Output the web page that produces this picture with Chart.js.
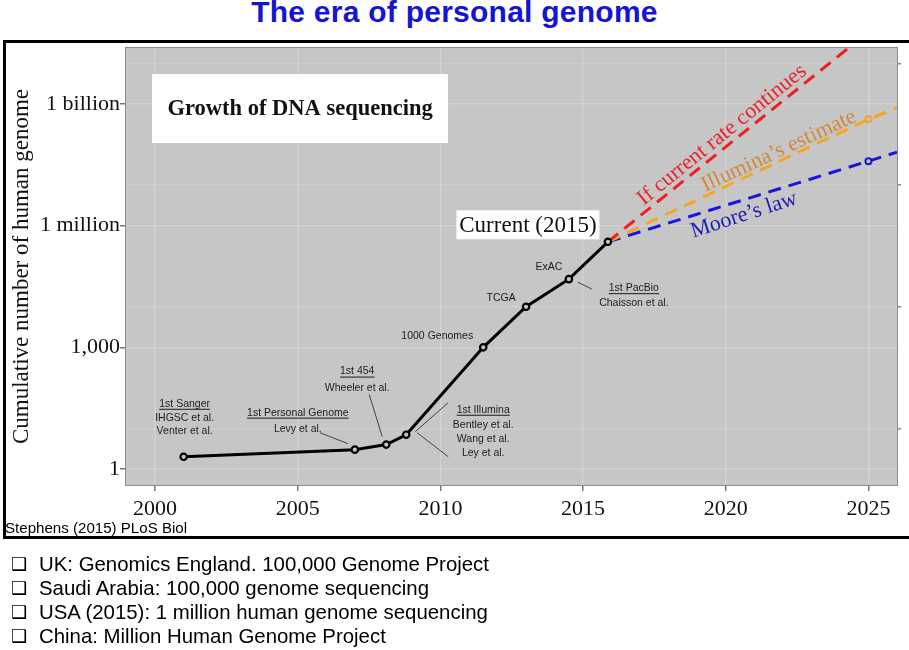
<!DOCTYPE html>
<html>
<head>
<meta charset="utf-8">
<script src="https://cdn.jsdelivr.net/npm/chart.js@4/dist/chart.umd.min.js"></script>
<style>
  body { margin: 0; background: #fff; width: 909px; height: 650px; overflow: hidden; position: relative; font-family: "Liberation Sans", Arial, sans-serif; }
  #title { position: absolute; left: 0; top: -3px; width: 909px; text-align: center; font: bold 30px/30px "Liberation Sans", Arial, sans-serif; letter-spacing: 0.25px; color: #1414d2; }
  #frame { position: absolute; left: 3px; top: 40px; width: 1000px; height: 493px; border: 3px solid #000; }
  #chart { position: absolute; left: 0; top: 0; }
  #source { position: absolute; left: 5px; top: 520px; font-size: 15.1px; line-height: 15px; color: #000; }
  #notes { position: absolute; left: 10px; top: 552px; margin: 0; padding: 0; list-style: none; font-size: 20.4px; line-height: 24px; color: #000; }
  #notes li { position: relative; padding-left: 29px; white-space: nowrap; }
  #notes li span { position: absolute; left: 1px; top: 0; font-family: "DejaVu Sans", sans-serif; font-weight: bold; font-size: 18px; }
</style>
</head>
<body>
<div id="title">The era of personal genome</div>
<div id="frame"></div>
<canvas id="chart" width="909" height="650"></canvas>
<div id="source">Stephens (2015) PLoS Biol</div>
<ul id="notes">
  <li><span>❑</span>UK: Genomics England. 100,000 Genome Project</li>
  <li><span>❑</span>Saudi Arabia: 100,000 genome sequencing</li>
  <li><span>❑</span>USA (2015): 1 million human genome sequencing</li>
  <li><span>❑</span>China: Million Human Genome Project</li>
</ul>
<script>
// milestones (year, cumulative genomes)
const years = [2001, 2007, 2008.1, 2008.8, 2011.5, 2013, 2014.5, 2015.87];
const genomes = [2, 3, 4, 7, 1000, 10000, 48000, 400000];

// projections from the current point
const projYears = [2015.87, 2025, 2026];
const currentRate = [400000, 6e10, null];
const illumina = [400000, 4.2e8, 8.1e8];
const moore = [400000, 3.9e7, 6.5e7];

const xTicks = [2000, 2005, 2010, 2015, 2020, 2025];
const yTicks = [1, 1e3, 1e6, 1e9];
const yTickLabels = ['1', '1,000', '1 million', '1 billion'];
const rightTicks = [10, 1e4, 1e7, 1e10];

// labels hung on the milestone points (offsets in px)
const pointNotes = [
  { i: 0, dx: 1, dy: -53, lines: ['1st Sanger', 'IHGSC et al.', 'Venter et al.'], gap: 12.5, lead: [] },
  { i: 1, dx: -57, dy: -37, lines: ['1st Personal Genome', 'Levy et al.'], gap: 14, lead: [[-35, -17, -7, -6]] },
  { i: 2, dx: -29, dy: -73, lines: ['1st 454', 'Wheeler et al.'], gap: 15, lead: [[-17, -50, -4, -8]] },
  { i: 3, dx: 77, dy: -25, lines: ['1st Illumina', 'Bentley et al.', 'Wang et al.', 'Ley et al.'], gap: 13.7, lead: [[9, -3, 42, -32], [11, -2, 42, 22]] },
  { i: 4, dx: -46, dy: -11, lines: ['1000 Genomes'], gap: 0, lead: [], plain: true },
  { i: 5, dx: -25, dy: -9, lines: ['TCGA'], gap: 0, lead: [], plain: true },
  { i: 6, dx: -20, dy: -12, lines: ['ExAC'], gap: 0, lead: [], plain: true },
  { i: 6, dx: 65, dy: 9, lines: ['1st PacBio', 'Chaisson et al.'], gap: 13, lead: [[9, 3, 23, 10]] }
];

const projNotes = [
  { text: 'If current rate continues', x: 2019.87, y: 1.72e8, angle: -39, color: '#e8232a' },
  { text: 'Illumina\u2019s estimate', x: 2021.86, y: 6.9e7, angle: -25, color: '#d2883a' },
  { text: 'Moore\u2019s law', x: 2020.64, y: 1.82e6, angle: -18, color: '#1c1cb4' }
];

const GREY = '#c6c6c6';
const SERIF = '"Liberation Serif", "Times New Roman", serif';
const SANS = '"Liberation Sans", Arial, sans-serif';

const decor = {
  id: 'decor',
  beforeDraw(chart) {
    const { ctx, chartArea: a } = chart;
    ctx.save();
    ctx.fillStyle = GREY;
    ctx.fillRect(a.left, a.top, a.right - a.left, a.bottom - a.top);
    ctx.restore();
  },
  afterDatasetsDraw(chart) {
    const { ctx, chartArea: a } = chart;
    const xs = chart.scales.x, ys = chart.scales.y;
    const meta = chart.getDatasetMeta(0);
    ctx.save();
    ctx.strokeStyle = '#8c8c8c';
    ctx.lineWidth = 1;
    ctx.strokeRect(a.left - 0.5, a.top - 0.5, a.right - a.left + 1, a.bottom - a.top + 1);

    // small point notes
    ctx.font = '10.5px ' + SANS;
    ctx.textAlign = 'center';
    ctx.textBaseline = 'middle';
    pointNotes.forEach(n => {
      const p = meta.data[n.i];
      const cx = p.x + n.dx, cy = p.y + n.dy;
      ctx.fillStyle = '#1c1c1c';
      n.lines.forEach((t, k) => {
        const yy = cy + k * n.gap + (k > 0 && !n.plain ? 2 : 0);
        ctx.fillText(t, cx, yy);
        if (k === 0 && !n.plain) {
          const w = ctx.measureText(t).width;
          ctx.fillRect(cx - w / 2, yy + 5, w, 1);
        }
      });
      ctx.strokeStyle = '#333';
      ctx.lineWidth = 0.9;
      n.lead.forEach(l => {
        ctx.beginPath();
        ctx.moveTo(p.x + l[0], p.y + l[1]);
        ctx.lineTo(p.x + l[2], p.y + l[3]);
        ctx.stroke();
      });
    });

    // boxed titles
    const box = (text, font, cx, cy, w, h) => {
      ctx.fillStyle = '#fff';
      ctx.fillRect(cx - w / 2, cy - h / 2, w, h);
      ctx.fillStyle = '#111';
      ctx.font = font;
      ctx.fillText(text, cx, cy + 1);
    };
    box('Growth of DNA sequencing', 'bold 22.5px ' + SERIF, xs.getPixelForValue(2005.08), ys.getPixelForValue(7.7e8), 296, 69);
    const cur = meta.data[7];
    box('Current (2015)', '23px ' + SERIF, cur.x - 80, cur.y - 17, 143, 29);

    // projection labels
    ctx.font = '22px ' + SERIF;
    projNotes.forEach(n => {
      ctx.save();
      ctx.translate(xs.getPixelForValue(n.x), ys.getPixelForValue(n.y));
      ctx.rotate(n.angle * Math.PI / 180);
      ctx.fillStyle = n.color;
      ctx.fillText(n.text, 0, 0);
      ctx.restore();
    });
    ctx.restore();
  }
};

const proj = (vals, color) => ({
  data: projYears.map((x, i) => ({ x: x, y: vals[i] })),
  borderColor: color,
  borderWidth: 3,
  borderDash: [13, 8],
  pointRadius: [0, 3, 0],
  pointBorderWidth: 2,
  pointBorderColor: color,
  pointBackgroundColor: GREY,
  spanGaps: false,
  clip: 0,
  order: 1
});

new Chart(document.getElementById('chart'), {
  type: 'line',
  data: {
    datasets: [
      {
        data: years.map((x, i) => ({ x: x, y: genomes[i] })),
        borderColor: '#000',
        borderWidth: 3,
        pointRadius: 3.2,
        pointBorderWidth: 2.2,
        pointBorderColor: '#000',
        pointBackgroundColor: GREY,
        order: 0
      },
      proj(currentRate, '#f01e1e'),
      proj(illumina, '#f5a623'),
      proj(moore, '#1616e0')
    ]
  },
  options: {
    responsive: false,
    animation: false,
    layout: { padding: { left: 0, top: 48, right: 0, bottom: 135 } },
    plugins: { legend: { display: false }, tooltip: { enabled: false } },
    scales: {
      x: {
        type: 'linear',
        min: 1998.98,
        max: 2026,
        afterBuildTicks: s => { s.ticks = xTicks.map(v => ({ value: v })); },
        afterFit: s => { s.height = 30; },
        border: { display: false },
        grid: { color: 'rgba(255,255,255,0.2)', lineWidth: 1.5, borderDash: [3, 3], tickLength: 6, tickColor: '#777' },
        ticks: { padding: 5, color: '#111', font: { family: SERIF, size: 22 }, callback: v => String(v) }
      },
      y: {
        type: 'logarithmic',
        position: 'left',
        min: 0.403,
        max: 2.404e10,
        afterBuildTicks: s => { s.ticks = yTicks.map(v => ({ value: v })); },
        afterFit: s => { s.width = 126; },
        border: { display: false },
        grid: { color: 'rgba(255,255,255,0.2)', lineWidth: 1.5, borderDash: [3, 3], tickLength: 6, tickColor: '#777' },
        ticks: { padding: 0, color: '#111', font: { family: SERIF, size: 22 }, callback: (v, i) => yTickLabels[i] },
        title: { display: true, text: 'Cumulative number of human genome', color: '#111', font: { family: SERIF, size: 23 }, padding: { top: 8, bottom: 0 } }
      },
      y2: {
        type: 'logarithmic',
        position: 'right',
        min: 0.403,
        max: 2.404e10,
        afterBuildTicks: s => { s.ticks = rightTicks.map(v => ({ value: v })); },
        afterFit: s => { s.width = 12; },
        border: { display: false },
        grid: { color: 'rgba(255,255,255,0.14)', lineWidth: 1.5, borderDash: [3, 3], tickLength: 4, tickColor: '#888' },
        ticks: { display: false }
      }
    }
  },
  plugins: [decor]
});
</script>
</body>
</html>
